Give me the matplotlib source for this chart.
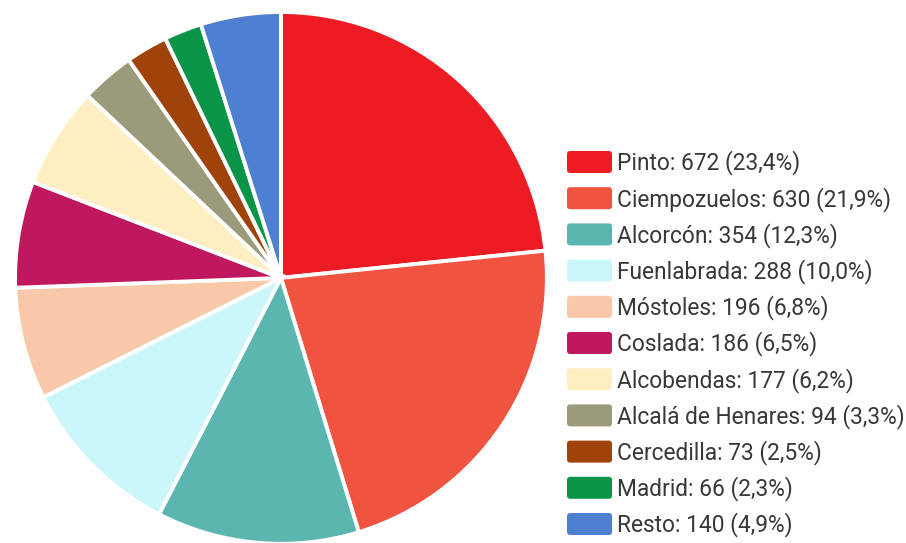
import matplotlib.pyplot as plt
from matplotlib.patches import FancyBboxPatch

# Data
labels = ["Pinto", "Ciempozuelos", "Alcorcón", "Fuenlabrada", "Móstoles", "Coslada",
          "Alcobendas", "Alcalá de Henares", "Cercedilla", "Madrid", "Resto"]
values = [672, 630, 354, 288, 196, 186, 177, 94, 73, 66, 140]
percents = ["23,4", "21,9", "12,3", "10,0", "6,8", "6,5", "6,2", "3,3", "2,5", "2,3", "4,9"]
colors = ["#ED1C24", "#F0533F", "#5BB5B0", "#CBF7FA", "#F9C8A8", "#C0185F",
          "#FDEFC2", "#9B9A7A", "#A0430A", "#0A9448", "#4F7FD0"]

fig = plt.figure(figsize=(9.06, 5.43), dpi=100)

# Pie
ax = fig.add_axes([0.0166, -0.0018, 0.587, 0.98])
ax.pie(values, colors=colors, startangle=90, counterclock=False,
       wedgeprops=dict(edgecolor="white", linewidth=2.8))
ax.set_aspect("equal")
ax.set_xlim(-1, 1)
ax.set_ylim(-1, 1)

# Legend drawn by hand (rounded swatches)
lax = fig.add_axes([0, 0, 1, 1])
lax.set_xlim(0, 906)
lax.set_ylim(543, 0)
lax.axis("off")
y0 = 162
step = 36.2
for i, (lab, v, p, c) in enumerate(zip(labels, values, percents, colors)):
    y = y0 + i * step
    lax.add_patch(FancyBboxPatch((567, y - 11), 45, 22,
                                 boxstyle="round,pad=0,rounding_size=3",
                                 facecolor=c, edgecolor="none"))
    lax.text(617, y + 1, f"{lab}: {v} ({p}%)", fontsize=16.4, family="Roboto",
             color="#383838", va="center", ha="left")

fig.savefig("out.png", dpi=100)
